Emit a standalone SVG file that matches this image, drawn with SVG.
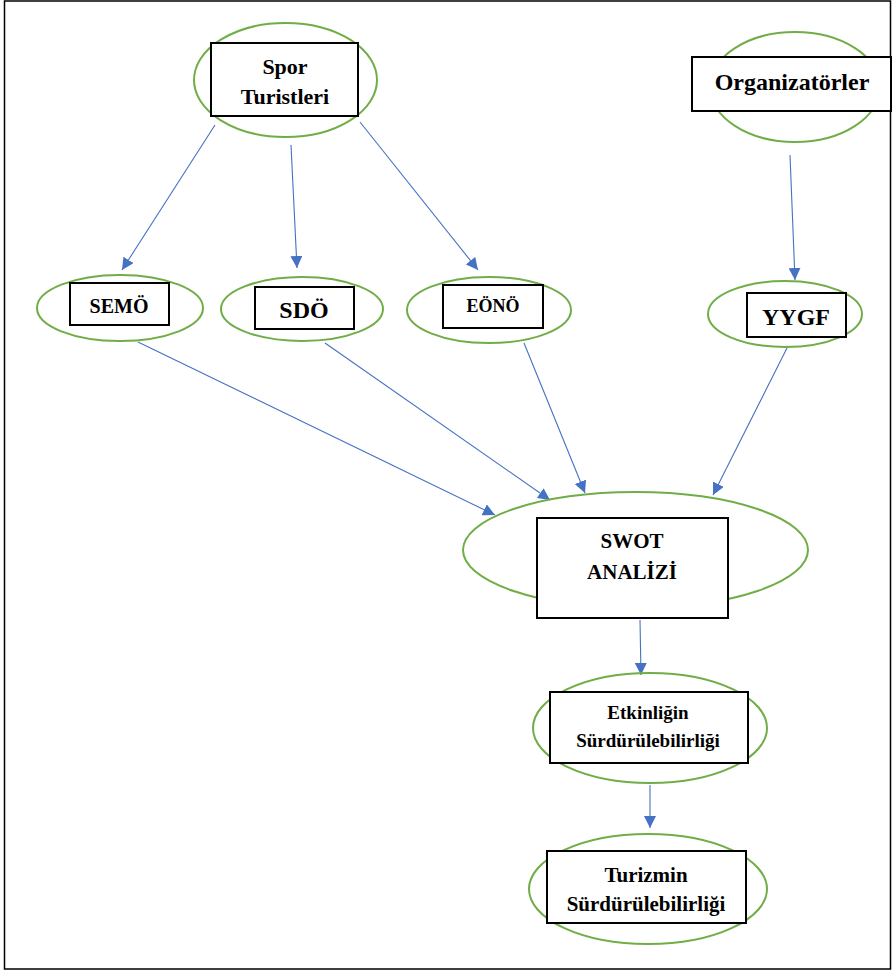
<svg xmlns="http://www.w3.org/2000/svg" width="893" height="972" viewBox="0 0 893 972">
  <defs>
    <marker id="arrow" markerUnits="userSpaceOnUse" markerWidth="12" markerHeight="12" viewBox="0 0 12 12" refX="12" refY="6" orient="auto">
      <path d="M0,0 L12,6 L0,12 Z" fill="#4472C4"/>
    </marker>
    <style>
      .oval { fill: none; stroke: #70AD47; stroke-width: 2; }
      .box { fill: #fff; stroke: #000; stroke-width: 2; }
      .lbl { font-weight: bold; fill: #000; text-anchor: middle; }
      .link { stroke: #4472C4; stroke-width: 1.1; fill: none; marker-end: url(#arrow); }
    </style>
  </defs>

  <rect x="0" y="0" width="893" height="972" fill="#fff"/>
  <rect x="4.5" y="1" width="886" height="968" fill="none" stroke="#000" stroke-width="1.5"/>

  <g id="connectors">
    <line class="link" x1="215" y1="125" x2="122" y2="270"/>
    <line class="link" x1="291" y1="145" x2="297" y2="268"/>
    <line class="link" x1="360" y1="122" x2="478" y2="270"/>
    <line class="link" x1="790" y1="155" x2="795" y2="280"/>
    <line class="link" x1="138" y1="342" x2="495" y2="515"/>
    <line class="link" x1="325" y1="343" x2="550" y2="500"/>
    <line class="link" x1="524" y1="343" x2="585" y2="493"/>
    <line class="link" x1="787" y1="348" x2="713" y2="495"/>
    <line class="link" x1="640" y1="620" x2="641" y2="675"/>
    <line class="link" x1="650" y1="785" x2="650" y2="828"/>
  </g>

  <g font-family="'Liberation Serif', 'Times New Roman', serif">
  <g id="spor-turistleri">
    <ellipse class="oval" cx="285.5" cy="80" rx="91.5" ry="57"/>
    <rect class="box" x="211" y="43" width="147" height="73"/>
    <text class="lbl" x="285" y="74" font-size="22">Spor</text>
    <text class="lbl" x="285" y="104" font-size="22">Turistleri</text>
  </g>

  <g id="organizatorler">
    <ellipse class="oval" cx="795" cy="87" rx="85" ry="55"/>
    <rect class="box" x="692" y="57" width="199" height="54"/>
    <text class="lbl" x="792" y="90" font-size="24">Organizatörler</text>
  </g>

  <g id="semo">
    <ellipse class="oval" cx="120" cy="308" rx="83" ry="33"/>
    <rect class="box" x="70" y="283" width="99" height="42"/>
    <text class="lbl" x="119" y="313" font-size="20">SEMÖ</text>
  </g>

  <g id="sdo">
    <ellipse class="oval" cx="302" cy="309" rx="81" ry="32"/>
    <rect class="box" x="255" y="287" width="99" height="42"/>
    <text class="lbl" x="304" y="318" font-size="24">SDÖ</text>
  </g>

  <g id="eono">
    <ellipse class="oval" cx="489" cy="310" rx="82" ry="33"/>
    <rect class="box" x="443" y="285" width="100" height="43"/>
    <text class="lbl" x="493" y="312" font-size="18">EÖNÖ</text>
  </g>

  <g id="yygf">
    <ellipse class="oval" cx="785" cy="314" rx="77" ry="33"/>
    <rect class="box" x="747" y="293" width="99" height="44"/>
    <text class="lbl" x="796" y="325" font-size="24">YYGF</text>
  </g>

  <g id="swot-analizi">
    <ellipse class="oval" cx="635.5" cy="550" rx="172.5" ry="58"/>
    <rect class="box" x="537" y="518" width="191" height="100"/>
    <text class="lbl" x="632" y="548" font-size="21">SWOT</text>
    <text class="lbl" x="632" y="579" font-size="21">ANALİZİ</text>
  </g>

  <g id="etkinligin-surdurulebilirligi">
    <ellipse class="oval" cx="650" cy="728" rx="117" ry="55"/>
    <rect class="box" x="550" y="692" width="198" height="71"/>
    <text class="lbl" x="648" y="719" font-size="19">Etkinliğin</text>
    <text class="lbl" x="648" y="747" font-size="19">Sürdürülebilirliği</text>
  </g>

  <g id="turizmin-surdurulebilirligi">
    <ellipse class="oval" cx="648" cy="889" rx="119" ry="55"/>
    <rect class="box" x="547" y="851" width="199" height="72"/>
    <text class="lbl" x="646" y="882" font-size="21">Turizmin</text>
    <text class="lbl" x="646" y="911" font-size="21">Sürdürülebilirliği</text>
  </g>
  </g>
</svg>
